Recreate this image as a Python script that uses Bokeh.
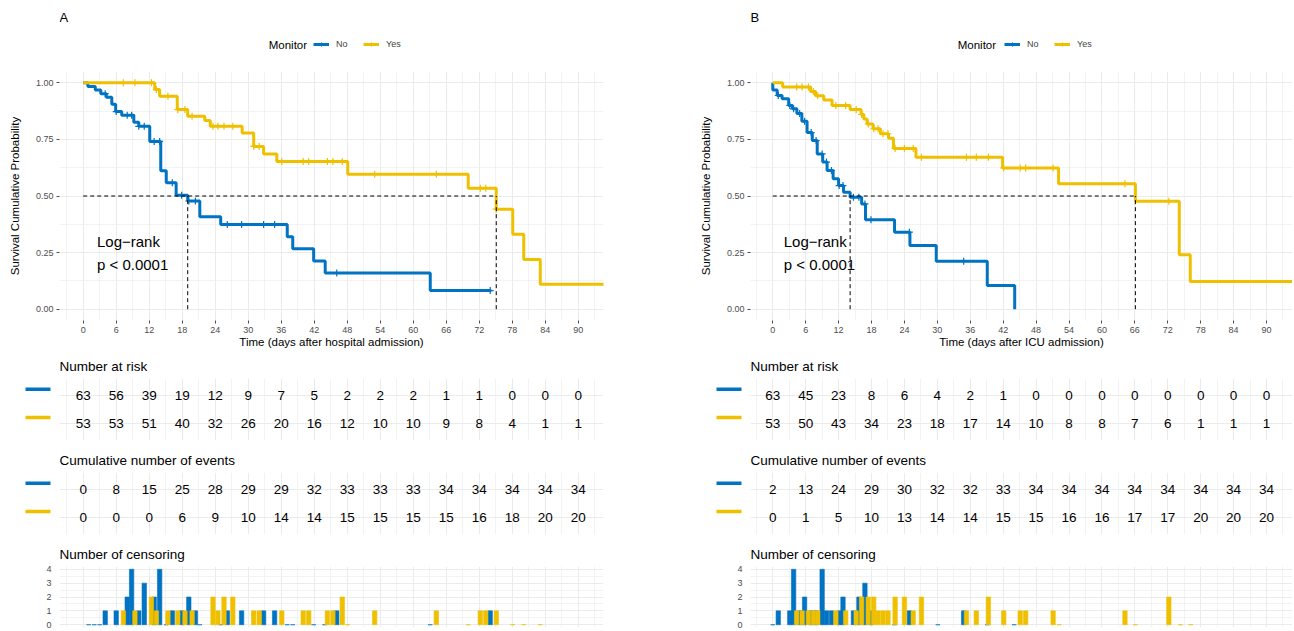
import numpy as np
from bokeh.plotting import figure
from bokeh.layouts import row, column
from bokeh.models import (Range1d, FixedTicker, Legend, LegendItem, Label,
                          ColumnDataSource, PrintfTickFormatter)
from bokeh.core.properties import value
from bokeh.embed import file_html
from bokeh.resources import INLINE

BLUE = "#0073C2"
YELLOW = "#EFC000"
GRID = "#EBEBEB"
FONT = "Liberation Sans"

groups = ["No", "Yes"]
table_times = list(range(0, 91, 6))
minor_x = list(range(-3, 96, 6))

# ---------------- Panel A (hospital admission) ----------------
A_blue_t = [0, 0.85, 2.2, 3.2, 4.2, 5.2, 5.9, 7.0, 9.2, 10.1, 12.1, 14.1, 15.1, 16.9, 19.0, 21.2, 25.0, 37.1, 38.1, 41.9, 44.0, 63.1, 74.2]
A_blue_s = [1.0, 0.984, 0.968, 0.952, 0.936, 0.905, 0.873, 0.857, 0.826, 0.808, 0.741, 0.612, 0.559, 0.503, 0.478, 0.408, 0.374, 0.320, 0.267, 0.213, 0.160, 0.082, 0.082]
A_yel_t = [0, 13.0, 13.9, 17.1, 19.0, 22.1, 23.1, 28.9, 31.0, 32.8, 35.2, 48.1, 70.0, 75.1, 78.1, 80.1, 83.1, 98.0]
A_yel_s = [1.0, 0.970, 0.941, 0.882, 0.852, 0.834, 0.808, 0.778, 0.719, 0.686, 0.652, 0.596, 0.534, 0.442, 0.331, 0.220, 0.110, 0.110]

A_risk_blue = [63, 56, 39, 19, 12, 9, 7, 5, 2, 2, 2, 1, 1, 0, 0, 0]
A_risk_yel = [53, 53, 51, 40, 32, 26, 20, 16, 12, 10, 10, 9, 8, 4, 1, 1]
A_event_blue = [0, 8, 15, 25, 28, 29, 29, 32, 33, 33, 33, 34, 34, 34, 34, 34]
A_event_yel = [0, 0, 0, 6, 9, 10, 14, 14, 15, 15, 15, 15, 16, 18, 20, 20]

A_cens_blue_t = [1, 2, 3, 4, 6, 8, 8.8, 10.1, 11.1, 12.9, 13.9, 15.1, 16.2, 17.9, 19.2, 20.4, 21.2, 25.0, 26.2, 28.8, 32.8, 34.8, 37.1, 38.1, 41.9, 43.9, 46.1, 63.1, 74.0]
A_cens_blue_n = [0, 0, 0, 1, 1, 2, 4, 1, 3, 2, 4, 0, 1, 1, 2, 1, 0, 0, 1, 1, 1, 1, 0, 0, 0, 0, 1, 0, 1]
A_cens_yel_t = [7.3, 9.4, 12.4, 13.3, 15.4, 17.2, 18.5, 19.8, 23.6, 24.5, 25.6, 27.2, 31.0, 32.0, 36.1, 40.0, 41.0, 44.4, 45.4, 47.1, 48.1, 53.0, 64.2, 70.0, 72.2, 73.2, 75.1, 78.1, 80.1, 83.1]
A_cens_yel_n = [1, 1, 2, 1, 1, 1, 1, 1, 2, 1, 2, 2, 1, 1, 1, 1, 1, 1, 1, 2, 0, 1, 1, 0, 1, 1, 1, 0, 0, 0]

# ---------------- Panel B (ICU admission) ----------------
B_blue_t = [0, 0, 0.8, 1.7, 2.9, 3.6, 4.4, 5.3, 6.25, 7.2, 8.1, 9.1, 9.9, 11.0, 12.0, 12.9, 14.1, 16.2, 16.9, 22.2, 25.0, 29.8, 39.1, 44.1]
B_blue_s = [1.0, 0.968, 0.944, 0.93, 0.90, 0.885, 0.865, 0.83, 0.78, 0.745, 0.686, 0.65, 0.613, 0.576, 0.546, 0.517, 0.495, 0.465, 0.395, 0.34, 0.281, 0.212, 0.105, 0.0]
B_yel_t = [0, 1.8, 6.9, 7.8, 9.3, 10.8, 14.1, 16.1, 16.6, 17.2, 18.3, 19.6, 21.1, 22.0, 26.1, 41.9, 52.1, 66.1, 74.1, 76.1, 98.0]
B_yel_s = [1.0, 0.981, 0.962, 0.943, 0.924, 0.90, 0.882, 0.86, 0.84, 0.818, 0.797, 0.775, 0.755, 0.71, 0.671, 0.624, 0.554, 0.477, 0.24, 0.122, 0.122]

B_risk_blue = [63, 45, 23, 8, 6, 4, 2, 1, 0, 0, 0, 0, 0, 0, 0, 0]
B_risk_yel = [53, 50, 43, 34, 23, 18, 17, 14, 10, 8, 8, 7, 6, 1, 1, 1]
B_event_blue = [2, 13, 24, 29, 30, 32, 32, 33, 34, 34, 34, 34, 34, 34, 34, 34]
B_event_yel = [0, 1, 5, 10, 13, 14, 14, 15, 15, 16, 16, 17, 17, 20, 20, 20]

B_cens_blue_t = [0, 1.0, 3.1, 3.8, 4.9, 5.8, 7.0, 7.9, 9.0, 9.8, 10.7, 12.1, 12.8, 14.7, 15.7, 16.8, 17.9, 22.2, 24.9, 30.1, 34.8, 39.1, 44.0]
B_cens_blue_n = [0, 1, 1, 4, 1, 2, 1, 1, 4, 1, 1, 1, 2, 1, 2, 3, 1, 0, 1, 0, 1, 0, 0]
B_cens_yel_t = [4.35, 5.35, 6.5, 7.4, 8.2, 11.5, 13.3, 15.2, 16.2, 17.4, 18.4, 19.2, 20.1, 21.0, 22.3, 24.0, 25.6, 27.1, 35.3, 37.1, 39.3, 42.1, 45.1, 46.1, 51.1, 52.2, 64.2, 66.1, 72.2, 74.3, 76.2]
B_cens_yel_n = [1, 1, 1, 1, 1, 1, 1, 1, 2, 2, 2, 1, 1, 1, 2, 2, 1, 2, 1, 1, 2, 1, 1, 1, 1, 0, 1, 0, 2, 0, 0]

COLORS = [BLUE, YELLOW]
ROWPOS = [2, 1]          # blue row on top, yellow below


def grid_style(p):
    p.outline_line_color = None
    for g in (p.xgrid, p.ygrid):
        g.grid_line_color = GRID
        g.grid_line_width = 1
        g.minor_grid_line_color = GRID
        g.minor_grid_line_width = 0.6


def surv_at(ts, ss, t):
    i = np.searchsorted(np.array(ts), np.array(t), side="right") - 1
    return list(np.array(ss)[np.clip(i, 0, len(ss) - 1)])


def header_fig(letter, xr, width, bl, br):
    h = figure(width=width, height=57, x_range=Range1d(*xr), y_range=Range1d(0, 1), title=None,
               output_backend="svg", toolbar_location=None,
               min_border_left=bl, min_border_right=br, min_border_top=0, min_border_bottom=0)
    h.outline_line_color = None
    h.axis.visible = False
    h.grid.visible = False
    items = []
    for g, col in zip(groups, COLORS):
        # legend keys only: NaN data draws nothing in the plot area
        ln = h.line([np.nan], [np.nan], line_width=3, color=col)
        cr = h.scatter([np.nan], [np.nan], marker="cross", size=7, line_width=1.2, color=col)
        items.append(LegendItem(label=g, renderers=[ln, cr]))
    leg = Legend(items=items, orientation="horizontal", location=(254, 8), padding=0, margin=0, spacing=7,
                 glyph_width=16, glyph_height=10, label_height=10, label_standoff=7,
                 label_text_font=FONT, label_text_font_size="9px", border_line_color=None,
                 background_fill_alpha=0)
    h.add_layout(leg)
    h.add_layout(Label(x=40.7, y=0.228, text="Monitor", text_align="right", text_baseline="middle",
                       text_font=FONT, text_font_size="11.5px", text_color="black"))
    h.add_layout(Label(x=xr[0], y=0.70, text=letter, text_align="left", text_baseline="middle",
                       text_font=FONT, text_font_size="13px", text_color="black"))
    return h


def survival_fig(xlabel, xr, width, bl, br, curves, cens, lx):
    p = figure(width=width, height=294, x_range=Range1d(*xr), y_range=Range1d(-0.05, 1.05), title=None,
               output_backend="svg", toolbar_location=None,
               min_border_left=bl, min_border_right=br, min_border_top=14, min_border_bottom=31)
    grid_style(p)
    p.xaxis.ticker = FixedTicker(ticks=table_times, minor_ticks=minor_x)
    p.yaxis.ticker = FixedTicker(ticks=[0, 0.25, 0.5, 0.75, 1.0], minor_ticks=[0.125, 0.375, 0.625, 0.875])
    p.yaxis.formatter = PrintfTickFormatter(format="%.2f")
    p.axis.axis_line_color = None
    p.axis.major_tick_out = 3
    p.axis.major_tick_in = 0
    p.axis.minor_tick_out = 0
    p.axis.minor_tick_in = 0
    p.axis.major_tick_line_color = "#4D4D4D"
    p.axis.major_label_text_font = FONT
    p.axis.major_label_text_font_size = "9px"
    p.axis.major_label_text_color = "#4D4D4D"
    p.axis.axis_label_text_font = FONT
    p.axis.axis_label_text_font_size = "11.5px"
    p.axis.axis_label_text_font_style = "normal"
    p.axis.axis_label_text_color = "black"
    p.xaxis.axis_label = xlabel
    p.yaxis.axis_label = "Survival Cumulative Probability"
    p.xaxis.major_label_standoff = 3
    p.xaxis.axis_label_standoff = 0
    p.yaxis.major_label_standoff = 3
    p.yaxis.axis_label_standoff = 12

    meds = []
    for (ts, ss), (ct, cn), col in zip(curves, cens, COLORS):
        p.step(ts, ss, mode="after", line_width=3, color=col)
        tt = [t for t, n in zip(ct, cn) if n > 0 and t <= ts[-1]]
        p.scatter(tt, surv_at(ts, ss, tt), marker="cross", size=7, line_width=1.2, color=col)
        meds.append(next(t for t, s in zip(ts, ss) if s <= 0.5))
    p.segment(x0=[0] + meds, y0=[0.5] + [0] * len(meds), x1=[max(meds)] + meds, y1=[0.5] * (len(meds) + 1),
              line_dash="4 3", line_color="black", line_width=1)
    p.text(x=[lx, lx], y=[0.297, 0.198], text=["Log\u2212rank", "p < 0.0001"],
           text_font=value(FONT), text_font_size="15px", text_baseline="middle", text_align="left",
           text_color="black")
    return p


def title_style(p):
    p.title.text_font = FONT
    p.title.text_font_size = "13.5px"
    p.title.text_font_style = "normal"
    p.title.text_color = "black"
    p.title.align = "left"
    p.title.offset = 0
    p.title.standoff = 10


def table_fig(title, vals, xr, width, br, top, bottom):
    t = figure(width=width, height=top + 63 + bottom, x_range=Range1d(*xr), y_range=Range1d(0.4, 2.6),
               output_backend="svg", toolbar_location=None, title=title,
               min_border_left=0, min_border_right=br, min_border_top=top, min_border_bottom=bottom)
    grid_style(t)
    title_style(t)
    t.xaxis.visible = False
    t.yaxis.visible = False
    t.xgrid.ticker = FixedTicker(ticks=table_times, minor_ticks=minor_x)
    t.ygrid.ticker = FixedTicker(ticks=ROWPOS, minor_ticks=[])
    xs, ys, txt = [], [], []
    for v, rp in zip(vals, ROWPOS):
        xs += table_times
        ys += [rp] * len(v)
        txt += [str(a) for a in v]
    t.text(x="x", y="y", text="t", source=ColumnDataSource(dict(x=xs, y=ys, t=txt)),
           text_font=value(FONT), text_font_size="13.5px", text_align="center",
           text_baseline="middle", text_color="black")
    return t


def key_fig(width, top, bottom):
    # x measured in pixels to the left of the table frame
    k = figure(width=width, height=top + 63 + bottom, x_range=Range1d(-width, 0), y_range=Range1d(0.4, 2.6),
               output_backend="svg", toolbar_location=None, title=None,
               min_border_left=0, min_border_right=0, min_border_top=top, min_border_bottom=bottom)
    k.outline_line_color = None
    k.axis.visible = False
    k.grid.visible = False
    yk = [r + 0.22 for r in ROWPOS]
    k.segment(x0=[-34, -34], x1=[-9, -9], y0=yk, y1=yk, line_color=COLORS, line_width=3.5)
    return k


def cens_fig(xr, width, bl, br, cens):
    c = figure(width=width, height=91, x_range=Range1d(*xr), y_range=Range1d(-0.2, 4.2),
               output_backend="svg", toolbar_location=None, title="Number of censoring",
               min_border_left=bl, min_border_right=br, min_border_top=28, min_border_bottom=2)
    grid_style(c)
    title_style(c)
    c.xaxis.visible = False
    c.xgrid.ticker = FixedTicker(ticks=table_times, minor_ticks=minor_x)
    c.yaxis.ticker = FixedTicker(ticks=[0, 1, 2, 3, 4], minor_ticks=[0.5, 1.5, 2.5, 3.5])
    c.yaxis.axis_line_color = None
    c.yaxis.major_tick_out = 0
    c.yaxis.major_tick_in = 0
    c.yaxis.minor_tick_out = 0
    c.yaxis.minor_tick_in = 0
    c.yaxis.major_label_standoff = 8
    c.yaxis.major_label_text_font = FONT
    c.yaxis.major_label_text_font_size = "9px"
    c.yaxis.major_label_text_color = "#4D4D4D"
    for (ct, cn), col in zip(cens, COLORS):
        c.vbar(x=ct, top=cn, width=0.8, fill_color=col, line_color=col, line_alpha=0.6, line_width=1)
    return c


def build(letter, xlabel, xr, colw, bl, frame_w, curves, cens, risk, events, lx):
    br = colw - bl - frame_w
    h = header_fig(letter, xr, colw, bl, br)
    s = survival_fig(xlabel, xr, colw, bl, br, curves, cens, lx)
    r1 = row(key_fig(bl, 26, 5), table_fig("Number at risk", risk, xr, colw - bl, br, 26, 5))
    r2 = row(key_fig(bl, 26, 4), table_fig("Cumulative number of events", events, xr, colw - bl, br, 26, 4))
    c = cens_fig(xr, colw, bl, br, cens)
    return column(h, s, r1, r2, c)


colA = build("A", "Time (days after hospital admission)", (-4.31, 94.6), 696, 59, 544,
             [(A_blue_t, A_blue_s), (A_yel_t, A_yel_s)],
             [(A_cens_blue_t, A_cens_blue_n), (A_cens_yel_t, A_cens_yel_n)],
             [A_risk_blue, A_risk_yel], [A_event_blue, A_event_yel], 2.5)
colB = build("B", "Time (days after ICU admission)", (-4.06, 94.74), 596, 54, 542,
             [(B_blue_t, B_blue_s), (B_yel_t, B_yel_s)],
             [(B_cens_blue_t, B_cens_blue_n), (B_cens_yel_t, B_cens_yel_n)],
             [B_risk_blue, B_risk_yel], [B_event_blue, B_event_yel], 2.0)

layout = row(colA, colB)
open("out.html", "w").write(file_html(layout, INLINE))
